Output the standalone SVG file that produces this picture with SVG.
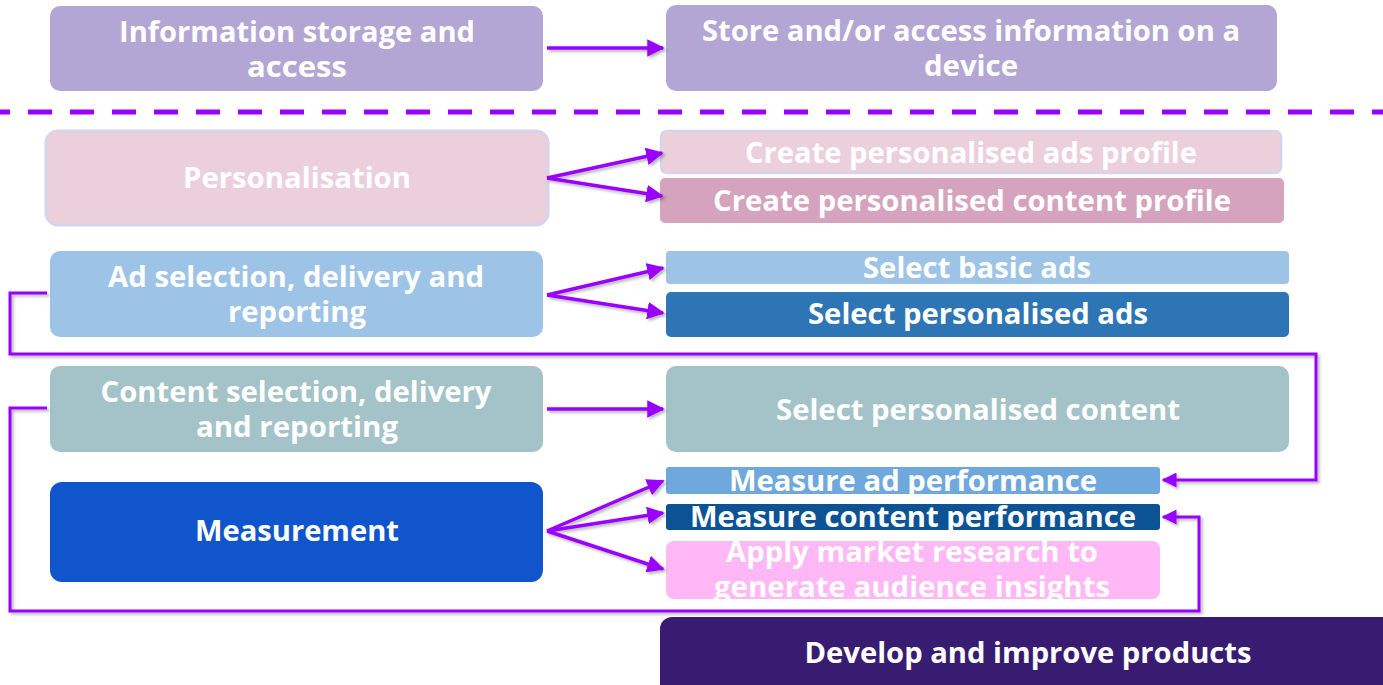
<svg xmlns="http://www.w3.org/2000/svg" width="1383" height="685" viewBox="0 0 1383 685">
<style>
text{font-family:"Open Sans","Noto Sans","Liberation Sans",sans-serif;font-weight:700;font-size:29px;fill:#ffffff;text-anchor:middle}
.ln{fill:none;stroke:#9900ff;stroke-width:3.5}
.lp{fill:none;stroke:#9900ff;stroke-width:3}
</style>
<defs>
<marker id="ah" viewBox="0 0 10 10" refX="9" refY="5" markerWidth="5" markerHeight="5" markerUnits="strokeWidth" orient="auto">
<path d="M0,0 L10,5 L0,10 z" fill="#9900ff"/>
</marker>
<filter id="sh" x="-5%" y="-5%" width="110%" height="120%">
<feDropShadow dx="2" dy="2" stdDeviation="1.5" flood-color="#000" flood-opacity="0.3"/>
</filter>
</defs>

<g id="n-info">
<rect x="50" y="6" width="493" height="85" rx="10" fill="#b3a6d4"/>
<text x="297" y="42" textLength="356" lengthAdjust="spacingAndGlyphs">Information storage and</text>
<text x="297" y="77" textLength="100" lengthAdjust="spacingAndGlyphs">access</text>
</g>
<g id="n-store">
<rect x="666" y="5" width="611" height="86" rx="10" fill="#b3a6d4"/>
<text x="971" y="41" textLength="538" lengthAdjust="spacingAndGlyphs">Store and/or access information on a</text>
<text x="971" y="76" textLength="94" lengthAdjust="spacingAndGlyphs">device</text>
</g>

<line id="divider" x1="0" y1="112" x2="1383" y2="112" stroke="#9900ff" stroke-width="5" stroke-dasharray="24 18" stroke-dashoffset="14"/>

<g id="n-pers">
<rect x="46" y="131" width="502" height="94" rx="12" fill="#ebd0dc" stroke="#d8d2ec" stroke-width="3"/>
<text x="297" y="188" textLength="228" lengthAdjust="spacingAndGlyphs">Personalisation</text>
</g>
<g id="n-ads-profile">
<rect x="661" y="131" width="620" height="42" rx="6" fill="#ebd0dc" stroke="#d8d2ec" stroke-width="2.5"/>
<text x="971" y="163" textLength="452" lengthAdjust="spacingAndGlyphs">Create personalised ads profile</text>
</g>
<g id="n-content-profile">
<rect x="660" y="178" width="624" height="45" rx="5" fill="#d5a3bd"/>
<text x="972" y="211" textLength="518" lengthAdjust="spacingAndGlyphs">Create personalised content profile</text>
</g>

<g id="n-adsel">
<rect x="50" y="251" width="493" height="86" rx="10" fill="#9dc3e6"/>
<text x="296" y="287" textLength="376" lengthAdjust="spacingAndGlyphs">Ad selection, delivery and</text>
<text x="297" y="322" textLength="138" lengthAdjust="spacingAndGlyphs">reporting</text>
</g>
<g id="n-basic">
<rect x="666" y="251" width="623" height="33" rx="4" fill="#9dc3e6"/>
<text x="977" y="278" textLength="228" lengthAdjust="spacingAndGlyphs">Select basic ads</text>
</g>
<g id="n-persads">
<rect x="666" y="292" width="623" height="45" rx="5" fill="#2e75b6"/>
<text x="978" y="324" textLength="340" lengthAdjust="spacingAndGlyphs">Select personalised ads</text>
</g>

<g id="n-contsel">
<rect x="50" y="366" width="493" height="86" rx="10" fill="#a3c3c8"/>
<text x="296" y="402" textLength="391" lengthAdjust="spacingAndGlyphs">Content selection, delivery</text>
<text x="297" y="437" textLength="202" lengthAdjust="spacingAndGlyphs">and reporting</text>
</g>
<g id="n-perscontent">
<rect x="666" y="366" width="623" height="86" rx="10" fill="#a3c3c8"/>
<text x="978" y="420" textLength="404" lengthAdjust="spacingAndGlyphs">Select personalised content</text>
</g>

<g id="n-measurement">
<rect x="50" y="482" width="493" height="100" rx="12" fill="#1155cc"/>
<text x="297" y="541" textLength="204" lengthAdjust="spacingAndGlyphs">Measurement</text>
</g>
<g id="n-measure-ad">
<rect x="666" y="467" width="494" height="27" rx="3" fill="#6fa8dc"/>
<text x="913" y="491" textLength="368" lengthAdjust="spacingAndGlyphs">Measure ad performance</text>
</g>
<g id="n-measure-content">
<rect x="666" y="504" width="494" height="26" rx="3" fill="#0b5394"/>
<text x="913" y="527" textLength="446" lengthAdjust="spacingAndGlyphs">Measure content performance</text>
</g>
<g id="n-market">
<rect x="666" y="541" width="494" height="58" rx="8" fill="#ffb8f5"/>
<text x="912" y="562" textLength="372" lengthAdjust="spacingAndGlyphs">Apply market research to</text>
<text x="912" y="597" textLength="396" lengthAdjust="spacingAndGlyphs">generate audience insights</text>
</g>

<g id="n-develop">
<rect x="660" y="617" width="740" height="90" rx="12" fill="#381c72"/>
<text x="1028" y="663" textLength="447" lengthAdjust="spacingAndGlyphs">Develop and improve products</text>
</g>

<g id="connectors" filter="url(#sh)">
<line class="ln" x1="547" y1="48" x2="663" y2="48" marker-end="url(#ah)"/>
<line class="ln" x1="547" y1="178" x2="662" y2="153" marker-end="url(#ah)"/>
<line class="ln" x1="547" y1="178" x2="662" y2="196" marker-end="url(#ah)"/>
<line class="ln" x1="547" y1="295" x2="663" y2="268" marker-end="url(#ah)"/>
<line class="ln" x1="547" y1="295" x2="663" y2="313" marker-end="url(#ah)"/>
<line class="ln" x1="547" y1="409" x2="663" y2="409" marker-end="url(#ah)"/>
<line class="ln" x1="547" y1="531" x2="663" y2="481" marker-end="url(#ah)"/>
<line class="ln" x1="547" y1="531" x2="663" y2="513" marker-end="url(#ah)"/>
<line class="ln" x1="547" y1="531" x2="663" y2="569" marker-end="url(#ah)"/>
<polyline class="lp" points="47,293 10,293 10,354 1316,354 1316,480 1163,480" marker-end="url(#ah)"/>
<polyline class="lp" points="47,408 10,408 10,611 1199,611 1199,517 1163,517" marker-end="url(#ah)"/>
</g>
</svg>
